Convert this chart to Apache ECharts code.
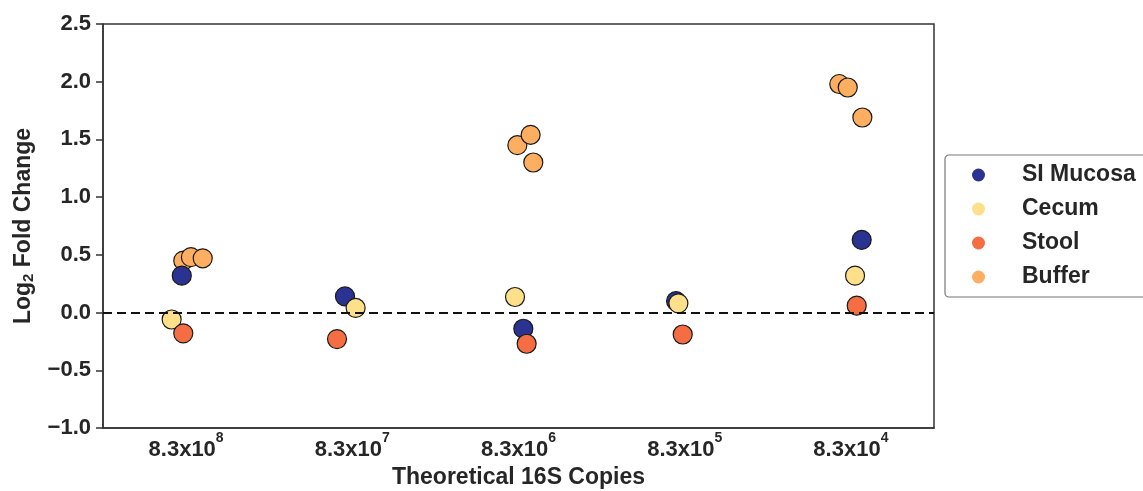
<!DOCTYPE html>
<html>
<head>
<meta charset="utf-8">
<script src="https://cdn.jsdelivr.net/npm/echarts@6/dist/echarts.min.js"></script>
<style>
html,body{margin:0;padding:0;background:#fff;}
#chart{width:1143px;height:491px;}
</style>
</head>
<body>
<div id="chart"></div>
<script>
// Categories (x positions 0..4) and their labels
const categories = ['8.3x10{sup|8}', '8.3x10{sup|7}', '8.3x10{sup|6}', '8.3x10{sup|5}', '8.3x10{sup|4}'];
const seriesNames = ['SI Mucosa', 'Cecum', 'Stool', 'Buffer'];
const yTicks = [-1.0, -0.5, 0.0, 0.5, 1.0, 1.5, 2.0, 2.5];

// Jittered category positions (strip plot) and log2 fold change values
const siMucosaX = [-0.026, 0.956, 2.029, 2.948, 4.065];
const siMucosaY = [0.32, 0.14, -0.14, 0.10, 0.63];

const cecumX = [-0.087, 1.020, 1.979, 2.962, 4.025];
const cecumY = [-0.06, 0.04, 0.135, 0.08, 0.32];

const stoolX = [-0.017, 0.908, 2.049, 2.988, 4.035];
const stoolY = [-0.18, -0.23, -0.27, -0.19, 0.06];

const bufferX = [-0.017, 0.029, 0.100, 1.993, 2.073, 2.089, 3.930, 3.981, 4.069];
const bufferY = [0.45, 0.48, 0.47, 1.45, 1.54, 1.30, 1.98, 1.95, 1.69];

const colors = {
  'SI Mucosa': '#2a3391',
  'Cecum': '#fee08b',
  'Stool': '#f46d43',
  'Buffer': '#fdae61'
};

function pairs(xs, ys) { return xs.map((x, i) => [x, ys[i]]); }

const FONT = "'Liberation Sans', Arial, Helvetica, sans-serif";
const TXT = '#262626';

function scatter(name, xs, ys) {
  return {
    name: name,
    type: 'scatter',
    z: 3,
    symbol: 'circle',
    symbolSize: 19,
    itemStyle: { color: colors[name], borderColor: '#1a1a1a', borderWidth: 1.2, opacity: 1 },
    emphasis: { disabled: true },
    data: pairs(xs, ys)
  };
}

const chart = echarts.init(document.getElementById('chart'), null, { renderer: 'canvas' });
chart.setOption({
  animation: false,
  backgroundColor: '#fff',
  textStyle: { fontFamily: FONT },
  grid: {
    left: 103, right: 209, top: 24, bottom: 63,
    outerBoundsMode: 'none',
    containLabel: false,
    show: true, borderColor: '#333', borderWidth: 1.5, backgroundColor: 'transparent'
  },
  legend: {
    data: seriesNames,
    orient: 'vertical',
    left: 945, top: 155,
    padding: [8, 40, 8, 27],
    itemGap: 10,
    itemWidth: 13, itemHeight: 13,
    icon: 'circle',
    borderColor: '#777', borderWidth: 1.2, borderRadius: 4,
    itemStyle: { borderWidth: 0 },
    textStyle: { fontFamily: FONT, fontWeight: 'bold', fontSize: 23, color: TXT, lineHeight: 24, padding: [0, 0, 0, 32] }
  },
  xAxis: {
    type: 'value',
    min: -0.5, max: 4.5,
    splitLine: { show: false },
    axisLine: { show: true, onZero: false, lineStyle: { color: '#333', width: 1.5 } },
    axisTick: { show: false },
    axisLabel: {
      customValues: [0, 1, 2, 3, 4],
      margin: 3,
      formatter: v => categories[Math.round(v)],
      fontFamily: FONT, fontWeight: 'bold', fontSize: 22, color: TXT,
      rich: {
        sup: { fontFamily: FONT, fontWeight: 'bold', fontSize: 14, color: TXT, verticalAlign: 'top', padding: [0, 0, 24, 0] }
      }
    },
    name: 'Theoretical 16S Copies',
    nameLocation: 'middle',
    nameGap: 36,
    nameTextStyle: { fontFamily: FONT, fontWeight: 'bold', fontSize: 23, color: TXT }
  },
  yAxis: {
    type: 'value',
    min: -1, max: 2.5, interval: 0.5,
    splitLine: { show: false },
    axisLine: { show: true, onZero: false, lineStyle: { color: '#333', width: 1.5 } },
    axisTick: { show: true, length: 7, inside: false, lineStyle: { color: '#333', width: 1.5 } },
    axisLabel: {
      margin: 12,
      formatter: v => (v < 0 ? '\u2212' : '') + Math.abs(v).toFixed(1),
      fontFamily: FONT, fontWeight: 'bold', fontSize: 22, color: TXT
    },
    name: 'Log{sub|2} Fold Change',
    nameLocation: 'middle',
    nameGap: 66,
    nameTextStyle: {
      fontFamily: FONT, fontWeight: 'bold', fontSize: 23, color: TXT,
      rich: { sub: { fontFamily: FONT, fontWeight: 'bold', fontSize: 15, color: TXT, padding: [12, 0, 0, 0] } }
    }
  },
  series: [
    {
      name: 'zero', type: 'line', data: [], z: 1, silent: true,
      markLine: {
        silent: true, symbol: 'none', animation: false,
        label: { show: false },
        lineStyle: { color: '#111', width: 2, type: [9, 5] },
        data: [{ yAxis: 0 }]
      }
    },
    scatter('Buffer', bufferX, bufferY),
    scatter('SI Mucosa', siMucosaX, siMucosaY),
    scatter('Cecum', cecumX, cecumY),
    scatter('Stool', stoolX, stoolY)
  ]
});
</script>
</body>
</html>
